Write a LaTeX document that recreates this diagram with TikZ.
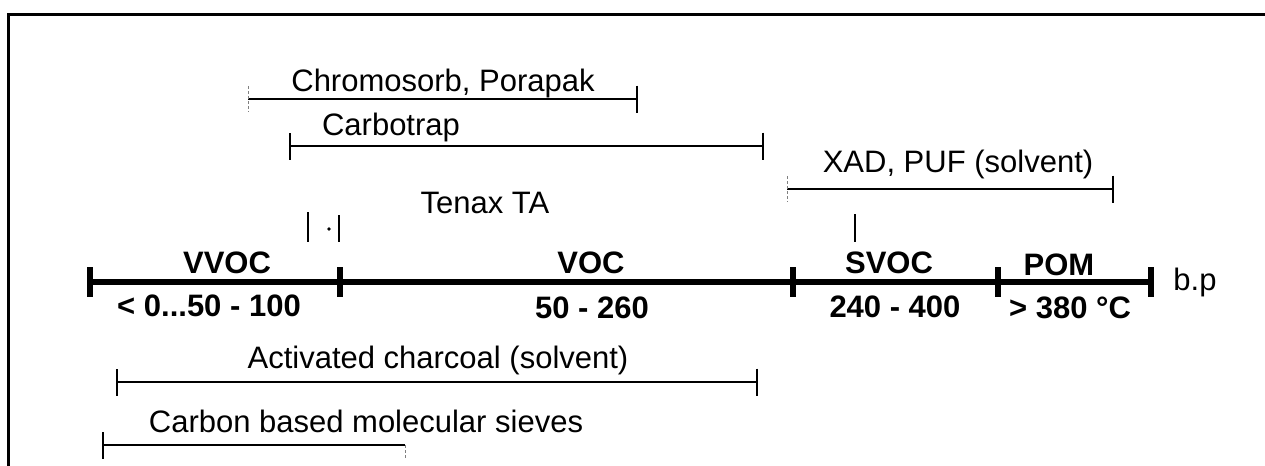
\documentclass[tikz,border=0pt]{standalone}
\usepackage{fontspec}
\setmainfont{Liberation Sans}
\usetikzlibrary{arrows.meta}
\begin{document}
\begin{tikzpicture}[x=0.5pt, y=-0.5pt, every node/.style={font=\fontsize{15.5}{18}\selectfont,inner sep=0pt,anchor=base},
  cls/.style={font=\fontsize{15.5}{18}\selectfont\bfseries},
  rng/.style={line width=1pt,{Bar[width=13.5pt,line width=1pt]}-{Bar[width=13.5pt,line width=1pt]}},
  rngr/.style={line width=1pt,-{Bar[width=13.5pt,line width=1pt]}},
  rngl/.style={line width=1pt,{Bar[width=13.5pt,line width=1pt]}-},
  faint/.style={line width=0.5pt,gray,dash pattern=on 1.5pt off 1pt},
  tck/.style={line width=0.9pt}]
\useasboundingbox (0,0) rectangle (1265,466);
\draw[line width=1.5pt] (1265,14) -| (8,466);
\foreach \n/\x in {a/90,b/340,c/793,d/998,e/1151} \coordinate (\n) at (\x,282);
\draw[line width=2.8pt] (a) -- (e);
\foreach \n in {a,b,c,d,e} \draw[line width=2.6pt] ([yshift=7.5pt]\n) -- ([yshift=-7.5pt]\n);
\node[cls] (vvoc) at (227,273) {VVOC};
\node[cls] (voc) at (591,273) {VOC};
\node[cls] (svoc) at (889,273) {SVOC};
\node[cls] (pom) at (1059,275) {POM};
\node[cls] (vvocbp) at (209,316) {< 0...50 - 100};
\node[cls] (vocbp) at (592,318) {50 - 260};
\node[cls] (svocbp) at (895,317) {240 - 400};
\node[cls] (pombp) at (1070,318) {> 380 °C};
\node (bp) at (1195,290) {b.p};
\coordinate (chrL) at (248,99); \coordinate (chrR) at (638,99);
\coordinate (carL) at (289,146); \coordinate (carR) at (764,146);
\coordinate (xadL) at (787,189); \coordinate (xadR) at (1114,189);
\coordinate (actL) at (116,382); \coordinate (actR) at (758,382);
\coordinate (cmsL) at (102,445); \coordinate (cmsR) at (405,445);
\draw[rngr] (chrL) -- (chrR);
\draw[faint] ([yshift=6.5pt]chrL) -- ([yshift=-6.5pt]chrL);
\node (chr) at (443,91) {Chromosorb, Porapak};
\draw[rng] (carL) -- (carR);
\node (car) at (391,135) {Carbotrap};
\draw[rngr] (xadL) -- (xadR);
\draw[faint] ([yshift=6.5pt]xadL) -- ([yshift=-6.5pt]xadL);
\node (xad) at (958,172) {XAD, PUF (solvent)};
\draw[rng] (actL) -- (actR);
\node (act) at (438,368) {Activated charcoal (solvent)};
\draw[rngl] (cmsL) -- (cmsR);
\draw[faint] ([yshift=0pt]cmsR) -- ([yshift=-6.5pt]cmsR);
\node (cms) at (366,432) {Carbon based molecular sieves};
\node (ten) at (485,213) {Tenax TA};
\coordinate (tenL) at (308,212); \coordinate (tenR) at (339,215);
\draw[tck] (tenL) -- ++(0,30);
\draw[tck] (tenR) -- ++(0,27);
\fill (329,229) circle (0.9pt);
\coordinate (svt) at (855,214);
\draw[tck] (svt) -- ++(0,28);
\end{tikzpicture}
\end{document}
